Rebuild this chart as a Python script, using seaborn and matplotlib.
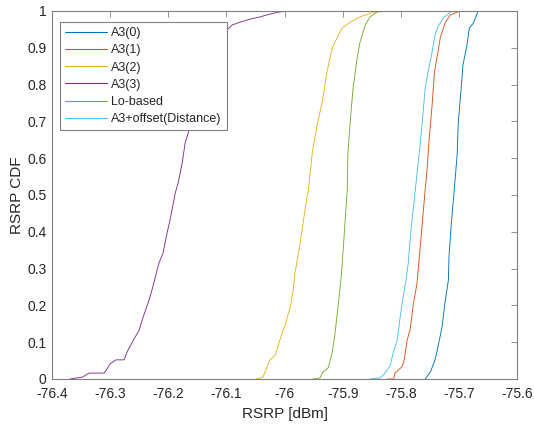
import numpy as np
import pandas as pd
import matplotlib
matplotlib.use("Agg")
import matplotlib.pyplot as plt
import seaborn as sns
from matplotlib.ticker import FuncFormatter

series_names = ["A3(0)", "A3(1)", "A3(2)", "A3(3)", "Lo-based", "A3+offset(Distance)"]
colors = ["#0072BD", "#D95319", "#EDB120", "#7E2F8E", "#77AC30", "#4DBEEE"]

a30_x = [-75.758, -75.749, -75.741, -75.736, -75.729, -75.724, -75.718, -75.717, -75.713, -75.708,
         -75.703, -75.701, -75.696, -75.693, -75.686, -75.682, -75.675, -75.667]
a30_y = [0.0, 0.019, 0.052, 0.087, 0.141, 0.207, 0.269, 0.332, 0.424, 0.514,
         0.609, 0.698, 0.791, 0.853, 0.908, 0.954, 0.967, 1.0]

a31_x = [-75.823, -75.812, -75.810, -75.798, -75.794, -75.789, -75.784, -75.779, -75.772, -75.768,
         -75.763, -75.758, -75.755, -75.751, -75.746, -75.742, -75.737, -75.732, -75.724, -75.715, -75.698]
a31_y = [0.0, 0.0, 0.016, 0.033, 0.052, 0.106, 0.133, 0.196, 0.261, 0.332,
         0.424, 0.514, 0.563, 0.655, 0.745, 0.834, 0.88, 0.927, 0.967, 0.989, 1.0]

a32_x = [-76.049, -76.037, -76.025, -76.016, -76.008, -75.999, -75.990, -75.985, -75.982, -75.978,
         -75.973, -75.968, -75.963, -75.959, -75.952, -75.944, -75.935, -75.927, -75.918, -75.909,
         -75.901, -75.887, -75.870, -75.847, -75.810]
a32_y = [0.0, 0.005, 0.052, 0.065, 0.106, 0.147, 0.196, 0.242, 0.288, 0.323,
         0.37, 0.424, 0.478, 0.514, 0.617, 0.69, 0.753, 0.834, 0.899, 0.929,
         0.954, 0.970, 0.984, 0.997, 1.0]

a33_x = [-76.369, -76.348, -76.336, -76.310, -76.300, -76.290, -76.276, -76.271, -76.262, -76.250,
         -76.245, -76.233, -76.228, -76.216, -76.209, -76.202, -76.197, -76.188, -76.183, -76.176,
         -76.171, -76.164, -76.155, -76.148, -76.140, -76.125, -76.105, -76.090, -76.076, -76.059,
         -76.042, -76.024, -76.010, -75.994]
a33_y = [0.0, 0.005, 0.016, 0.016, 0.041, 0.052, 0.052, 0.073, 0.10, 0.133,
         0.16, 0.215, 0.242, 0.315, 0.342, 0.397, 0.432, 0.505, 0.533, 0.587,
         0.641, 0.677, 0.75, 0.80, 0.85, 0.90, 0.94, 0.962, 0.970, 0.978,
         0.984, 0.992, 0.997, 1.0]

lo_x = [-75.951, -75.939, -75.934, -75.925, -75.918, -75.913, -75.908, -75.903, -75.899, -75.896,
        -75.892, -75.891, -75.887, -75.882, -75.875, -75.870, -75.861, -75.853, -75.841, -75.836]
lo_y = [0.0, 0.003, 0.019, 0.03, 0.071, 0.125, 0.196, 0.269, 0.351, 0.424,
        0.514, 0.609, 0.698, 0.791, 0.872, 0.916, 0.962, 0.984, 0.997, 1.0]

off_x = [-75.853, -75.835, -75.827, -75.818, -75.813, -75.806, -75.801, -75.796, -75.791, -75.787,
         -75.784, -75.780, -75.775, -75.768, -75.763, -75.758, -75.753, -75.746, -75.741, -75.736,
         -75.727, -75.715, -75.706]
off_y = [0.0, 0.003, 0.016, 0.038, 0.071, 0.106, 0.168, 0.223, 0.269, 0.315,
         0.378, 0.44, 0.514, 0.617, 0.698, 0.791, 0.834, 0.889, 0.935, 0.957,
         0.981, 0.997, 1.0]

xs = [a30_x, a31_x, a32_x, a33_x, lo_x, off_x]
ys = [a30_y, a31_y, a32_y, a33_y, lo_y, off_y]

rows = []
for name, xv, yv in zip(series_names, xs, ys):
    for a, b in zip(xv, yv):
        rows.append({"series": name, "rsrp": a, "cdf": b})
df = pd.DataFrame(rows)

sns.set_theme(style="white")
plt.rcParams["font.family"] = ["Liberation Sans", "DejaVu Sans"]

fig = plt.figure(figsize=(5.34, 4.29), dpi=100)
ax = fig.add_axes([52 / 534, 50 / 429, 465 / 534, 368 / 429])

sns.lineplot(data=df, x="rsrp", y="cdf", hue="series", hue_order=series_names,
             palette=dict(zip(series_names, colors)), estimator=None, sort=False,
             linewidth=0.65, ax=ax)

ax.set_xlim(-76.4, -75.6)
ax.set_ylim(0, 1)
ax.set_xticks(np.round(np.arange(-76.4, -75.59, 0.1), 1))
ax.set_yticks(np.round(np.arange(0, 1.01, 0.1), 1))
fmt = FuncFormatter(lambda v, p: ("%g" % round(v, 1)))
ax.xaxis.set_major_formatter(fmt)
ax.yaxis.set_major_formatter(fmt)

axcol = "#808080"
for s in ax.spines.values():
    s.set_visible(True)
    s.set_color(axcol)
    s.set_linewidth(0.8)
ax.tick_params(direction="in", length=4, width=0.6, color=axcol, labelsize=10,
               labelcolor="#262626", top=True, right=True)
ax.tick_params(axis="x", pad=6)
ax.tick_params(axis="y", pad=4)
ax.set_xlabel("RSRP [dBm]", fontsize=11, color="#262626", labelpad=4)
ax.set_ylabel("RSRP CDF", fontsize=11, color="#262626", labelpad=2)

handles, labels = ax.get_legend_handles_labels()
leg = ax.legend(handles, labels, loc="upper left", bbox_to_anchor=(0.017, 0.970),
                fontsize=9, frameon=True, fancybox=False, framealpha=1,
                edgecolor="#808080", borderpad=0.4, labelspacing=0.42,
                handlelength=3.4, handletextpad=0.3, borderaxespad=0)
leg.get_frame().set_linewidth(0.8)
leg.set_zorder(5)
for line in leg.get_lines():
    line.set_linewidth(0.8)

fig.savefig("out.png", dpi=100)
